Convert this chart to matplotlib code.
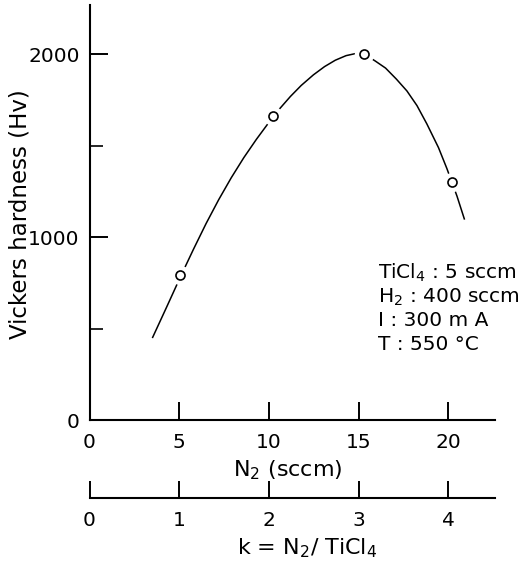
import numpy as np
import matplotlib
matplotlib.use("Agg")
import matplotlib.pyplot as plt

# measured points (N2 flow in sccm, Vickers hardness Hv)
n2_pts = [5.05, 10.2, 15.3, 20.2]
hv_pts = [795, 1665, 2000, 1300]

# hand-drawn fit curve
curve_x = [3.52, 4.31, 5.11, 5.80, 6.50, 7.20, 7.90, 8.60, 9.30, 10.0, 10.62,
           11.20, 11.80, 12.48, 13.10, 13.70, 14.30, 14.81, 15.30, 15.92,
           16.50, 17.10, 17.69, 18.25, 18.80, 19.45, 19.92, 20.20, 20.48, 20.89]
curve_y = [452, 620, 792, 935, 1075, 1205, 1325, 1435, 1535, 1628, 1705,
           1770, 1830, 1888, 1933, 1968, 1993, 2004, 2002, 1964,
           1925, 1865, 1800, 1720, 1620, 1490, 1375, 1300, 1225, 1100]

x_ticks = [0, 5, 10, 15, 20]
k_ticks = [0, 1, 2, 3, 4]
y_major = [0, 1000, 2000]
y_minor = [500, 1500]

conditions = ["TiCl$_4$ : 5 sccm", "H$_2$ : 400 sccm", "I : 300 m A", "T : 550 °C"]

plt.rcParams['font.family'] = ['DejaVu Sans']
plt.rcParams['font.size'] = 14.5
plt.rcParams['mathtext.default'] = 'regular'

W, H = 526, 564
fig = plt.figure(figsize=(W / 100, H / 100), dpi=100)
ax = fig.add_axes([89.5 / W, 1 - 420 / H, (495 - 89.5) / W, 415 / H])

ax.plot(curve_x, curve_y, color='black', lw=1.1, zorder=2)
ax.plot(n2_pts, hv_pts, ls='none', marker='o', ms=13, mfc='white', mec='white', zorder=3)
ax.plot(n2_pts, hv_pts, ls='none', marker='o', ms=6.5, mfc='white', mec='black',
        mew=1.2, zorder=4)

ax.set_xlim(0, 22.6)
ax.set_ylim(0, 2270)
ax.set_xticks(x_ticks)
ax.set_yticks(y_major)
ax.set_yticks(y_minor, minor=True)
ax.tick_params(axis='both', which='major', direction='in', length=13, width=1.4)
ax.tick_params(axis='y', which='minor', direction='in', length=9, width=1.2)
ax.tick_params(axis='x', pad=9)
ax.tick_params(axis='y', pad=7)
for side in ['top', 'right']:
    ax.spines[side].set_visible(False)
for side in ['left', 'bottom']:
    ax.spines[side].set_linewidth(1.5)

# second scale: k = N2 / TiCl4 (TiCl4 = 5 sccm)
sec = ax.secondary_xaxis(-0.188, functions=(lambda x: x / 5, lambda k: k * 5))
sec.set_xticks(k_ticks)
sec.tick_params(direction='in', length=12, width=1.4, pad=9)
sec.spines['bottom'].set_linewidth(1.5)

fig.text(20 / W, 1 - 214 / H, "Vickers hardness (Hv)", rotation=90,
         ha='center', va='center', fontsize=16.5)
fig.text(288 / W, 1 - 470 / H, "N$_2$ (sccm)", ha='center', va='center', fontsize=16)
fig.text(307 / W, 1 - 548 / H, "k = N$_2$/ TiCl$_4$", ha='center', va='center',
         fontsize=16)

for i, line in enumerate(conditions):
    fig.text(378 / W, 1 - (273 + 24 * i) / H, line, ha='left', va='center')

fig.savefig("out.png", dpi=100)
